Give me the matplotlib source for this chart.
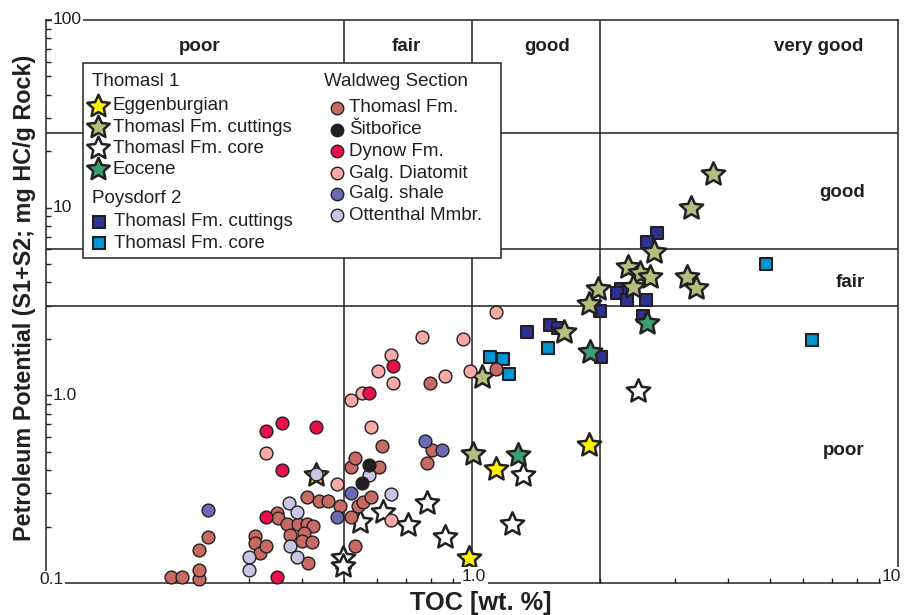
import numpy as np
import matplotlib
matplotlib.use('Agg')
import matplotlib.pyplot as plt
from matplotlib.path import Path
from matplotlib.patches import Rectangle
from matplotlib.lines import Line2D
from matplotlib.ticker import NullFormatter, LogLocator

plt.rcParams['font.family'] = ['Liberation Sans', 'DejaVu Sans']

# ---------------- data ----------------
# Thomasl 1 (stars)
egg_toc = [0.430, 0.986, 1.141, 1.886]
egg_pp = [0.378, 0.136, 0.403, 0.544]

cut_toc = [3.685, 3.268, 2.678, 2.328, 2.480, 2.617, 2.391, 3.192, 3.357, 1.979, 1.886, 1.647, 1.054, 1.008]
cut_pp = [15.06, 9.92, 5.78, 4.85, 4.47, 4.29, 3.79, 4.29, 3.72, 3.68, 3.06, 2.18, 1.255, 0.487]

core_toc = [2.449, 1.315, 1.239, 0.862, 0.783, 0.709, 0.619, 0.546, 0.499, 0.499]
core_pp = [1.05, 0.376, 0.206, 0.1765, 0.267, 0.204, 0.238, 0.212, 0.136, 0.1225]

eoc_toc = [2.579, 1.892, 1.284]
eoc_pp = [2.44, 1.71, 0.481]

# Poysdorf 2 (squares)
p2cut_toc = [2.714, 2.570, 2.234, 2.186, 2.307, 2.557, 2.0, 2.524, 1.525, 1.589, 1.348, 2.009]
p2cut_pp = [7.30, 6.54, 3.68, 3.52, 3.22, 3.22, 2.81, 2.66, 2.37, 2.28, 2.17, 1.61]

p2core_toc = [4.892, 6.273, 1.511, 1.104, 1.181, 1.223]
p2core_pp = [4.99, 1.97, 1.79, 1.61, 1.56, 1.30]

# Waldweg Section (circles)
thf_toc = [0.197, 0.209, 0.229, 0.229, 0.229, 0.240, 0.309, 0.309, 0.318, 0.328,
           0.348, 0.350, 0.367, 0.391, 0.411, 0.424, 0.373, 0.404, 0.398, 0.420,
           0.412, 0.411, 0.438, 0.460, 0.491, 0.521, 0.531, 0.541, 0.555, 0.580,
           0.520, 0.531, 0.604, 0.614, 0.785, 0.804, 0.797, 1.138]
thf_pp = [0.1075, 0.108, 0.1044, 0.118, 0.149, 0.1765, 0.177, 0.163, 0.145, 0.158,
          0.236, 0.222, 0.2075, 0.206, 0.205, 0.201, 0.180, 0.184, 0.167, 0.166,
          0.128, 0.286, 0.275, 0.275, 0.257, 0.226, 0.157, 0.256, 0.271, 0.286,
          0.415, 0.464, 0.415, 0.534, 0.436, 0.511, 1.16, 1.38]

sit_toc = [0.572, 0.551]
sit_pp = [0.424, 0.341]

dyn_toc = [0.328, 0.359, 0.431, 0.359, 0.328, 0.349, 0.572, 0.651]
dyn_pp = [0.643, 0.715, 0.674, 0.401, 0.225, 0.108, 1.035, 1.43]

dia_toc = [0.328, 0.481, 0.644, 0.579, 0.520, 0.552, 0.603, 0.644, 0.651, 0.764, 0.955, 0.864, 0.989, 1.138]
dia_pp = [0.493, 0.337, 0.217, 0.676, 0.941, 1.035, 1.34, 1.65, 1.16, 2.05, 1.99, 1.26, 1.34, 2.77]

sh_toc = [0.240, 0.481, 0.521, 0.774, 0.849]
sh_pp = [0.245, 0.226, 0.300, 0.568, 0.511]

ott_toc = [0.430, 0.372, 0.389, 0.373, 0.300, 0.300, 0.388, 0.572, 0.644]
ott_pp = [0.380, 0.267, 0.240, 0.158, 0.1384, 0.1176, 0.1384, 0.376, 0.299]

# classification boundaries
toc_bounds = [0.5, 1.0, 2.0]
pp_bounds = [3.0, 6.0, 25.0]
toc_classes = ['poor', 'fair', 'good', 'very good']
toc_class_x = [0.23, 0.70, 1.50, 6.5]
pp_classes = ['good', 'fair', 'poor']
pp_class_y = [12.1, 3.97, 0.511]

y_ticks = [100, 10, 1.0]
y_tick_labels = ['100', '10', '1.0']

# ---------------- styling ----------------
C_LINE = '#231f20'
C_EGG = '#fff200'
C_CUT = '#b3bf7d'
C_CORE = '#ffffff'
C_EOC = '#3d9e74'
C_P2CUT = '#2e3192'
C_P2CORE = '#0096d6'
C_THF = '#c76a64'
C_SIT = '#231f20'
C_DYN = '#e8104a'
C_DIA = '#f7aaa8'
C_SH = '#6b6bb5'
C_OTT = '#c7c6e4'

star = Path.unit_regular_star(5, innerCircle=0.47)

W, H = 908, 615
fig = plt.figure(figsize=(W / 100, H / 100), dpi=100)
L, R, T, B = 46, 898, 20, 583
ax = fig.add_axes([L / W, 1 - B / H, (R - L) / W, (B - T) / H])
ax.set_xscale('log')
ax.set_yscale('log')
ax.set_xlim(0.1, 10)
ax.set_ylim(0.1, 100)

for s in ax.spines.values():
    s.set_linewidth(1.1)
    s.set_color(C_LINE)

ax.xaxis.set_major_formatter(NullFormatter())
ax.xaxis.set_minor_formatter(NullFormatter())
ax.yaxis.set_major_formatter(NullFormatter())
ax.yaxis.set_minor_formatter(NullFormatter())
ax.xaxis.set_minor_locator(LogLocator(base=10, subs=np.arange(2, 10)))
ax.yaxis.set_minor_locator(LogLocator(base=10, subs=np.arange(2, 10)))
ax.tick_params(which='major', direction='in', length=4, width=1, color=C_LINE)
ax.tick_params(which='minor', direction='in', length=3.5, width=1, color=C_LINE)

for xb in toc_bounds:
    ax.axvline(xb, color=C_LINE, lw=1.1, zorder=1)
for yb in pp_bounds:
    ax.axhline(yb, color=C_LINE, lw=1.1, zorder=1)

# class labels
for lab, xv in zip(toc_classes, toc_class_x):
    ax.text(xv, 72, lab, ha='center', va='center', fontsize=13.5, fontweight='bold', color=C_LINE)
for lab, yv in zip(pp_classes, pp_class_y):
    ax.text(8.36, yv, lab, ha='right', va='center', fontsize=13.5, fontweight='bold', color=C_LINE)

# tick labels (inside)
wb = dict(facecolor='white', edgecolor='none', pad=1.0)
for yv, lab in zip(y_ticks, y_tick_labels):
    ax.annotate(lab, xy=(0.1, yv), xytext=(5, 0), textcoords='offset points',
                ha='left', va='center', fontsize=12.5, color=C_LINE, bbox=wb,
                zorder=10, annotation_clip=False)
ax.annotate('0.1', xy=(0.1, 0.1), xytext=(3.6, 2.5), textcoords='offset points',
            ha='center', va='center', fontsize=12.5, color=C_LINE, bbox=wb,
            zorder=10, annotation_clip=False)
ax.annotate('1.0', xy=(1.0, 0.1), xytext=(1.5, 5.0), textcoords='offset points',
            ha='center', va='center', fontsize=12.5, color=C_LINE, bbox=wb,
            zorder=10, annotation_clip=False)
ax.annotate('10', xy=(10, 0.1), xytext=(2.5, 5.0), textcoords='offset points',
            ha='right', va='center', fontsize=12.5, color=C_LINE, bbox=wb,
            zorder=10, annotation_clip=False)

# ---------------- data marks ----------------
sq_kw = dict(marker='s', s=70, edgecolors=C_LINE, linewidths=1.5, zorder=4, clip_on=False)
st_kw = dict(marker=star, s=310, edgecolors=C_LINE, linewidths=1.8, zorder=5, clip_on=False)
ci_kw = dict(marker='o', s=85, edgecolors=C_LINE, linewidths=1.0, zorder=6, clip_on=False)

ax.scatter(p2cut_toc, p2cut_pp, c=C_P2CUT, **sq_kw)
ax.scatter(p2core_toc, p2core_pp, c=C_P2CORE, **sq_kw)
ax.scatter(core_toc, core_pp, c=C_CORE, **st_kw)
ax.scatter(egg_toc, egg_pp, c=C_EGG, **st_kw)
ax.scatter(cut_toc, cut_pp, c=C_CUT, **st_kw)
ax.scatter(eoc_toc, eoc_pp, c=C_EOC, **st_kw)
ax.scatter(thf_toc, thf_pp, c=C_THF, **ci_kw)
ax.scatter(dia_toc, dia_pp, c=C_DIA, **ci_kw)
ax.scatter(dyn_toc, dyn_pp, c=C_DYN, **ci_kw)
ax.scatter(ott_toc, ott_pp, c=C_OTT, **ci_kw)
ax.scatter(sh_toc, sh_pp, c=C_SH, **ci_kw)
ax.scatter(sit_toc, sit_pp, c=C_SIT, **ci_kw)

# ---------------- axis titles ----------------
fig.text(480.5 / W, 1 - 603 / H, 'TOC [wt. %]', ha='center', va='center',
         fontsize=18.3, fontweight='bold', color=C_LINE)
fig.text(25 / W, 1 - 298 / H, 'Petroleum Potential (S1+S2; mg HC/g Rock)', ha='center',
         va='center', rotation=90, fontsize=16.8, fontweight='bold', color=C_LINE)

# ---------------- legend (manual) ----------------
def fp(px, py):
    return (px / W, 1 - py / H)

x0, y0 = fp(83, 258)
fig.add_artist(Rectangle((x0, y0), 418 / W, 195 / H, transform=fig.transFigure,
                         facecolor='white', edgecolor=C_LINE, lw=1.1, zorder=20))

def leg_text(px, py, s):
    fig.text(*fp(px, py), s, ha='left', va='center', fontsize=13.5, color=C_LINE, zorder=22)

def leg_mark(px, py, marker, color, size, lw):
    x, y = fp(px, py)
    fig.add_artist(Line2D([x], [y], marker=marker, markersize=size, markerfacecolor=color,
                          markeredgecolor=C_LINE, markeredgewidth=lw, linestyle='none',
                          transform=fig.transFigure, zorder=21))

leg_text(92, 82, 'Thomasl 1')
star_items = [('Eggenburgian', C_EGG, 106), ('Thomasl Fm. cuttings', C_CUT, 127),
              ('Thomasl Fm. core', C_CORE, 148), ('Eocene', C_EOC, 169)]
for lab, col, py in star_items:
    leg_mark(98, py, star, col, 17, 1.8)
    leg_text(113, py, lab)

leg_text(92, 199, 'Poysdorf 2')
sq_items = [('Thomasl Fm. cuttings', C_P2CUT, 222), ('Thomasl Fm. core', C_P2CORE, 243)]
for lab, col, py in sq_items:
    leg_mark(99, py, 's', col, 9, 1.5)
    leg_text(114, py, lab)

leg_text(324, 82, 'Waldweg Section')
circ_items = [('Thomasl Fm.', C_THF, 108), ('Šitbořice', C_SIT, 130), ('Dynow Fm.', C_DYN, 151),
              ('Galg. Diatomit', C_DIA, 173), ('Galg. shale', C_SH, 194),
              ('Ottenthal Mmbr.', C_OTT, 215)]
for lab, col, py in circ_items:
    leg_mark(337, py, 'o', col, 9, 1.0)
    leg_text(349, py, lab)

fig.savefig('out.png', dpi=100)
